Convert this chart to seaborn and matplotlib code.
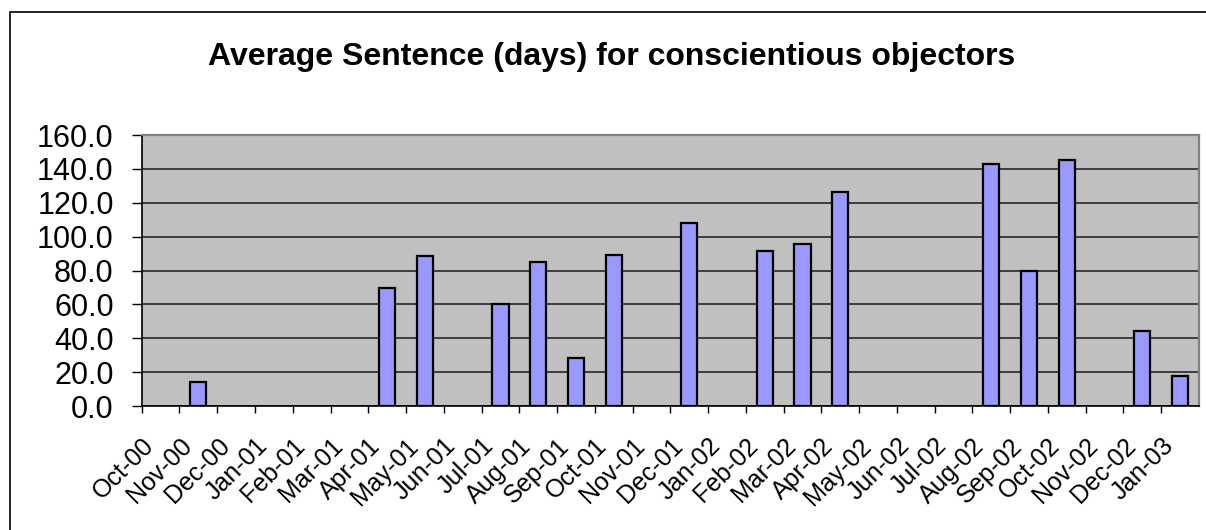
import numpy as np
import pandas as pd
import matplotlib
matplotlib.use('Agg')
import matplotlib.pyplot as plt
import seaborn as sns
from matplotlib.lines import Line2D

# ==========================================
# DATA
# ==========================================
MONTHS = [
    "Oct-00", "Nov-00", "Dec-00", "Jan-01", "Feb-01", "Mar-01", "Apr-01",
    "May-01", "Jun-01", "Jul-01", "Aug-01", "Sep-01", "Oct-01", "Nov-01",
    "Dec-01", "Jan-02", "Feb-02", "Mar-02", "Apr-02", "May-02", "Jun-02",
    "Jul-02", "Aug-02", "Sep-02", "Oct-02", "Nov-02", "Dec-02", "Jan-03",
]

# months that actually have a value (the rest are empty slots)
BAR_MONTHS = [
    "Nov-00", "Apr-01", "May-01", "Jul-01", "Aug-01", "Sep-01", "Oct-01",
    "Dec-01", "Feb-02", "Mar-02", "Apr-02", "Aug-02", "Sep-02", "Oct-02",
    "Dec-02", "Jan-03",
]
AVG_SENTENCE = [
    14.0, 69.8, 88.5, 60.2, 84.8, 28.1, 89.2,
    108.3, 91.6, 95.4, 126.4, 143.0, 79.8, 145.3,
    44.5, 17.8,
]

Y_TICKS = [0, 20, 40, 60, 80, 100, 120, 140, 160]
TITLE = "Average Sentence (days) for conscientious objectors"

W, H = 1206, 530

# ==========================================
# PLOT
# ==========================================
sns.set_theme(style="white")
plt.rcParams['font.family'] = ['Liberation Sans', 'DejaVu Sans']
plt.rcParams['text.color'] = 'black'

df = pd.DataFrame({"month": BAR_MONTHS, "days": AVG_SENTENCE})

fig = plt.figure(figsize=(W / 100, H / 100), dpi=100)
ax = fig.add_axes([141.7 / W, (H - 406) / H, (1199 - 141.7) / W, (406 - 135) / H])
ax.set_facecolor("#C0C0C0")

sns.barplot(data=df, x="month", y="days", order=MONTHS, color="#9999FF",
            saturation=1, width=0.43, edgecolor="black", linewidth=1.6, ax=ax)

ax.set_xlim(-0.5, len(MONTHS) - 0.5)
ax.set_ylim(0, 160)

# y axis
ax.set_yticks(Y_TICKS)
ax.set_yticklabels([f"{v:.1f}" for v in Y_TICKS], fontsize=22)
ax.tick_params(axis="y", direction="out", length=7.2, width=1, pad=13, colors="black")
ax.yaxis.grid(True, color="#333333", linewidth=1.3)
ax.set_axisbelow(True)

# x axis: ticks on slot boundaries, labels at the ticks
ax.set_xticks(np.arange(len(MONTHS)) - 0.5)
ax.set_xticklabels(MONTHS, fontsize=18, rotation=45, ha="right", va="top",
                   rotation_mode="anchor")
ax.tick_params(axis="x", direction="out", length=5, width=1, pad=15, colors="black")
ax.tick_params(bottom=True, left=True)

ax.set_xlabel("")
ax.set_ylabel("")

for side in ["left", "bottom"]:
    ax.spines[side].set_color("black")
    ax.spines[side].set_linewidth(1.2)
for side in ["top", "right"]:
    ax.spines[side].set_color("#808080")
    ax.spines[side].set_linewidth(1.6)

# title centred on the chart area
fig.text(612 / W, 1 - 65 / H, TITLE, ha="center", va="baseline",
         fontsize=23, fontweight="bold", color="black")

# outer chart border (only left and top visible in the frame)
fig.add_artist(Line2D([9.5 / W, 9.5 / W], [0, 1 - 12 / H], transform=fig.transFigure,
                      color="black", linewidth=1.2))
fig.add_artist(Line2D([9.5 / W, 1], [1 - 12 / H, 1 - 12 / H], transform=fig.transFigure,
                      color="black", linewidth=1.2))

fig.savefig("out.png", dpi=100)
